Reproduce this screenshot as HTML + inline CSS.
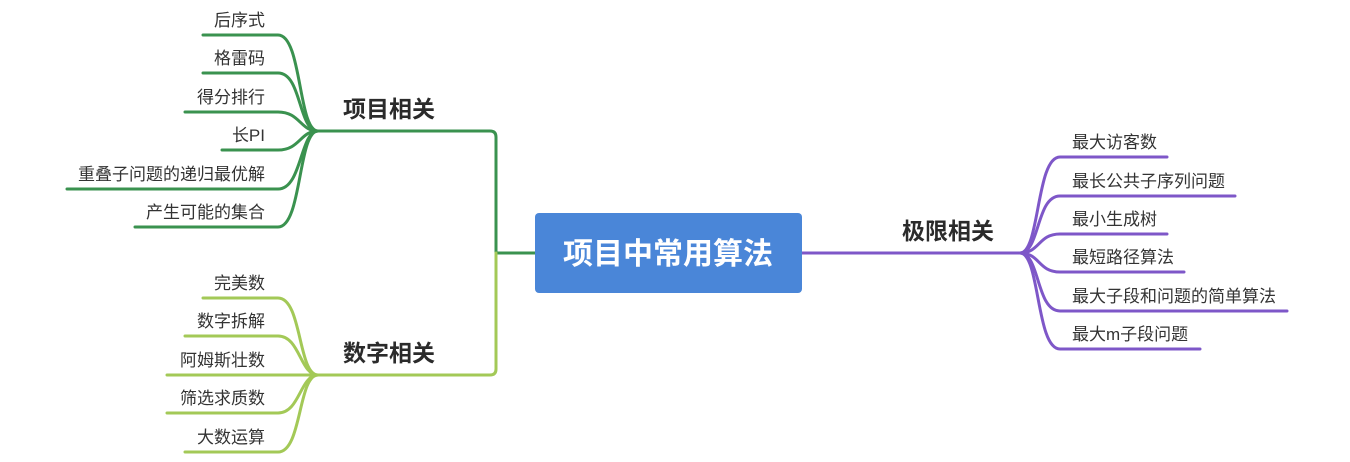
<!DOCTYPE html>
<html><head><meta charset="utf-8"><style>
html,body{margin:0;padding:0;background:#fff;}
svg{display:block;}
text{font-family:"Liberation Sans","Noto Sans CJK SC",sans-serif;fill:#333;}
.l{font-size:17px;}
.b{font-size:23px;font-weight:bold;fill:#2b2b2b;}
</style></head><body>
<svg width="1350" height="462" viewBox="0 0 1350 462" xmlns="http://www.w3.org/2000/svg">
<g fill="none" stroke-width="3" stroke-linecap="round">
<g stroke="#3a924f">
<path d="M318,131 C298,131 302,35 278,35 L203,35"/>
<path d="M318,131 C298,131 302,73 278,73 L203,73"/>
<path d="M318,131 C300,131 300,112 278,112 L185,112"/>
<path d="M318,131 C300,131 300,150 278,150 L222,150"/>
<path d="M318,131 C300,131 302,189 278,189 L67,189"/>
<path d="M318,131 C298,131 302,227 278,227 L135,227"/>
<path d="M318,131 L490,131 Q496,131 496,137 L496,253 L535,253"/>
</g>
<g stroke="#a3c957">
<path d="M318,375 C298,375 302,298 278,298 L203,298"/>
<path d="M318,375 C300,375 300,336 278,336 L185,336"/>
<path d="M318,375 L167,375"/>
<path d="M318,375 C300,375 300,413 278,413 L167,413"/>
<path d="M318,375 C298,375 302,452 278,452 L185,452"/>
<path d="M318,375 L490,375 Q496,375 496,369 L496,253"/>
</g>
<g stroke="#7e57c8">
<path d="M802,253 L1020,253"/>
<path d="M1020,253 C1040,253 1036,157 1060,157 L1167,157"/>
<path d="M1020,253 C1040,253 1036,196 1060,196 L1235,196"/>
<path d="M1020,253 C1040,253 1038,234 1060,234 L1167,234"/>
<path d="M1020,253 C1040,253 1038,272 1060,272 L1184,272"/>
<path d="M1020,253 C1040,253 1036,311 1060,311 L1287,311"/>
<path d="M1020,253 C1040,253 1036,349 1060,349 L1200,349"/>
</g>
</g>
<rect x="535" y="213" width="267" height="80" rx="4" fill="#4a86d8"/>
<text x="668" y="264" text-anchor="middle" style="font-size:30px;font-weight:bold;fill:#fff">项目中常用算法</text>
<text class="b" x="343" y="117">项目相关</text>
<text class="b" x="343" y="361">数字相关</text>
<text class="b" x="902" y="239">极限相关</text>
<g text-anchor="end">
<text class="l" x="265" y="26">后序式</text>
<text class="l" x="265" y="64">格雷码</text>
<text class="l" x="265" y="103">得分排行</text>
<text class="l" x="265" y="141">长PI</text>
<text class="l" x="265" y="180">重叠子问题的递归最优解</text>
<text class="l" x="265" y="218">产生可能的集合</text>
<text class="l" x="265" y="289">完美数</text>
<text class="l" x="265" y="327">数字拆解</text>
<text class="l" x="265" y="366">阿姆斯壮数</text>
<text class="l" x="265" y="404">筛选求质数</text>
<text class="l" x="265" y="443">大数运算</text>
</g>
<text class="l" x="1072" y="148">最大访客数</text>
<text class="l" x="1072" y="187">最长公共子序列问题</text>
<text class="l" x="1072" y="225">最小生成树</text>
<text class="l" x="1072" y="263">最短路径算法</text>
<text class="l" x="1072" y="302">最大子段和问题的简单算法</text>
<text class="l" x="1072" y="340">最大m子段问题</text>
</svg>
</body></html>
